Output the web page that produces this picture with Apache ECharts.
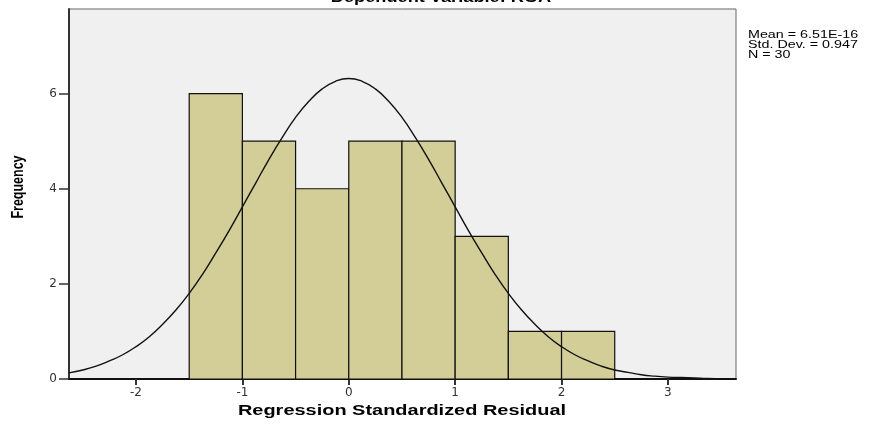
<!DOCTYPE html>
<html><head><meta charset="utf-8">
<script src="https://cdn.jsdelivr.net/npm/echarts@6/dist/echarts.min.js"></script>
<style>html,body{margin:0;padding:0;background:#fff}#c{width:880px;height:425px}</style>
</head><body><div id="c"></div>
<script>
// Histogram bins (lower edge, upper edge) and frequencies
var binStarts = [-1.5, -1.0, -0.5, 0.0, 0.5, 1.0, 1.5, 2.0];
var binEnds   = [-1.0, -0.5, 0.0, 0.5, 1.0, 1.5, 2.0, 2.5];
var frequencies = [6, 5, 4, 5, 5, 3, 1, 1];
// Normal curve
var curveX = [-2.63, -2.5, -2.375, -2.25, -2.125, -2.0, -1.875, -1.75, -1.625, -1.5, -1.375, -1.25, -1.125, -1.0, -0.875, -0.75, -0.625, -0.5, -0.375, -0.25, -0.125, 0.0,
              0.125, 0.25, 0.375, 0.5, 0.625, 0.75, 0.875, 1.0, 1.125, 1.25, 1.375, 1.5, 1.625, 1.75, 1.875, 2.0, 2.125, 2.25, 2.375, 2.5, 2.625, 2.75, 2.875, 3.0, 3.125, 3.25, 3.375, 3.5, 3.64];
var curveY = [0.13, 0.19, 0.27, 0.38, 0.51, 0.68, 0.89, 1.15, 1.45, 1.80, 2.20, 2.65, 3.12, 3.62, 4.12, 4.62, 5.08, 5.50, 5.84, 6.10, 6.26, 6.32,
              6.26, 6.10, 5.84, 5.50, 5.08, 4.62, 4.12, 3.62, 3.12, 2.65, 2.20, 1.80, 1.45, 1.15, 0.89, 0.68, 0.51, 0.38, 0.27, 0.19, 0.14, 0.09, 0.06, 0.04, 0.03, 0.02, 0.01, 0.007, 0.004];
var xTicks = [-2, -1, 0, 1, 2, 3];
var yTicks = [0, 2, 4, 6];
var titleText = 'Dependent Variable: ROA';
var statsText = ['Mean = 6.51E-16', 'Std. Dev. = 0.947', 'N = 30'];
var xTitle = 'Regression Standardized Residual';
var yTitle = 'Frequency';

var barData = binStarts.map(function (s, i) { return [s, binEnds[i], frequencies[i]]; });
var lineData = curveX.map(function (x, i) { return [x, curveY[i]]; });

var chart = echarts.init(document.getElementById('c'), null, {renderer: 'canvas'});
var font = 'Liberation Sans, Arial, sans-serif';
chart.setOption({
  animation: false,
  backgroundColor: '#ffffff',
  grid: {left: 69, right: 144, top: 9, bottom: 46, show: true, backgroundColor: '#f0f0f0', borderColor: '#666', borderWidth: 1},
  xAxis: {
    type: 'value', min: -2.63, max: 3.64,
    splitLine: {show: false},
    axisLine: {show: true, onZero: false, lineStyle: {color: '#111', width: 2}},
    axisTick: {show: true, length: 6, customValues: xTicks, lineStyle: {color: '#333', width: 2}},
    axisLabel: {customValues: xTicks, color: '#333', fontFamily: 'DejaVu Sans, sans-serif', fontSize: 12, margin: 8}
  },
  yAxis: {
    type: 'value', min: 0, max: 7.78,
    splitLine: {show: false},
    axisLine: {show: true, onZero: false, lineStyle: {color: '#333', width: 2}},
    axisTick: {show: true, length: 10, customValues: yTicks, lineStyle: {color: '#333', width: 1.5}},
    axisLabel: {customValues: yTicks, color: '#333', fontFamily: 'DejaVu Sans, sans-serif', fontSize: 12, margin: 12}
  },
  graphic: [
    {type: 'text', x: 441, y: 5, scaleX: 1.3, style: {text: titleText, font: 'bold 14px ' + font, fill: '#000', align: 'center', verticalAlign: 'bottom'}},
    {type: 'text', x: 748, y: 30, scaleX: 1.3, style: {text: statsText.join('\n'), font: '11px ' + font, lineHeight: 10, fill: '#000', align: 'left', verticalAlign: 'top'}},
    {type: 'text', x: 402, y: 411, scaleX: 1.33, style: {text: xTitle, font: 'bold 15px ' + font, fill: '#000', align: 'center', verticalAlign: 'middle'}},
    {type: 'text', x: 19, y: 187, rotation: Math.PI / 2, scaleX: 0.78, style: {text: yTitle, font: 'bold 16px ' + font, fill: '#000', align: 'center', verticalAlign: 'middle'}}
  ],
  series: [
    {
      type: 'custom', data: barData, z: 2,
      renderItem: function (params, api) {
        var p0 = api.coord([api.value(0), 0]);
        var p1 = api.coord([api.value(1), api.value(2)]);
        return {type: 'rect', shape: {x: p0[0], y: p1[1], width: p1[0] - p0[0], height: p0[1] - p1[1]},
          style: {fill: '#d3ce98', stroke: '#111', lineWidth: 1.2}};
      }
    },
    {
      type: 'line', data: lineData, smooth: true, symbol: 'none', z: 3,
      lineStyle: {color: '#111', width: 1.4}
    }
  ]
});
</script></body></html>
